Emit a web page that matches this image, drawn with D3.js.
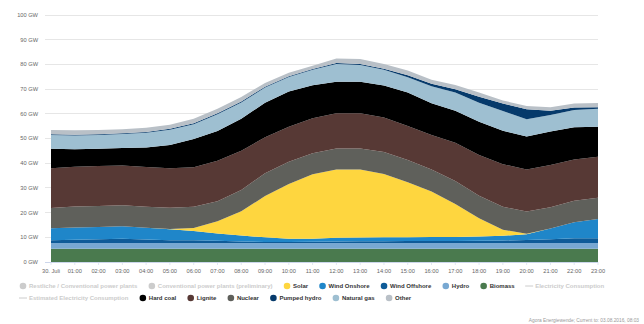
<!DOCTYPE html>
<html><head><meta charset="utf-8">
<script src="https://cdn.jsdelivr.net/npm/d3@7"></script>
<style>
html,body{margin:0;padding:0;background:#fff;}
svg{display:block;font-family:"Liberation Sans",Arial,sans-serif;}
</style></head>
<body><svg id="chart" width="644" height="324"></svg>
<script>
const hours = ["30. Juli","01:00","02:00","03:00","04:00","05:00","06:00","07:00","08:00","09:00","10:00","11:00","12:00","13:00","14:00","15:00","16:00","17:00","18:00","19:00","20:00","21:00","22:00","23:00"];
const yTicks = [0,10,20,30,40,50,60,70,80,90,100];

const biomass      = [5.4,5.4,5.4,5.4,5.4,5.4,5.4,5.4,5.4,5.4,5.4,5.4,5.4,5.4,5.4,5.4,5.4,5.4,5.4,5.4,5.4,5.4,5.4,5.4];
const hydro        = [2.3,2.3,2.3,2.3,2.3,2.3,2.3,2.3,2.3,2.3,2.3,2.3,2.3,2.3,2.3,2.3,2.3,2.3,2.3,2.3,2.3,2.3,2.3,2.3];
const windOffshore = [1.1,1.3,1.5,1.7,1.4,1.1,1.1,0.9,0.6,0.4,0.4,0.5,0.6,0.7,0.7,0.8,0.8,0.8,0.9,1.0,1.2,1.5,1.9,1.9];
const windOnshore  = [4.9,5.0,5.0,5.1,4.8,4.5,3.8,2.9,2.4,1.9,1.3,1.2,1.5,1.5,1.6,1.5,1.6,1.6,1.7,1.9,2.3,4.4,6.5,7.8];
const solar        = [0,0,0,0,0,0.1,1.2,5.0,9.8,16.7,22.2,26.1,27.6,27.5,25.6,22.3,18.4,13.4,7.4,2.5,0.2,0,0,0];
const nuclear      = [8.2,8.5,8.5,8.5,8.5,8.6,8.6,8.1,8.7,9.2,9.0,8.5,8.6,8.6,8.9,9.0,9.0,9.3,9.1,9.3,9.0,8.6,8.7,8.6];
const lignite      = [16.1,16.1,16.2,16.1,16.1,16.0,16.0,16.4,15.8,14.6,14.2,14.2,14.2,14.2,14.0,13.8,13.9,15.5,16.5,17.2,17.0,17.1,16.7,16.6];
const hardCoal     = [7.9,7.0,6.9,7.1,7.9,9.4,11.4,12.0,13.0,14.0,14.2,13.4,12.8,12.8,13.0,13.5,12.9,12.9,13.5,13.5,13.4,13.5,13.1,12.2];
const naturalGas   = [5.5,5.6,5.6,5.6,5.9,6.1,6.0,6.8,6.6,6.1,5.9,6.2,7.2,6.8,6.3,6.2,6.9,7.4,7.7,8.0,7.0,6.7,6.9,7.2];
const pumpedHydro  = [0.3,0.3,0.3,0.3,0.3,0.4,0.4,0.4,0.4,0.4,0.3,0.3,0.4,0.4,0.4,0.8,1.0,1.3,2.4,3.1,4.0,1.7,1.1,0.7];
const other        = [1.7,1.8,1.7,1.6,1.8,1.7,1.8,1.8,1.8,1.5,1.4,1.4,1.8,2.0,2.0,1.9,1.6,1.8,1.7,1.2,1.4,1.5,1.6,1.7];

const seriesKeys  = ["biomass","hydro","windOffshore","windOnshore","solar","nuclear","lignite","hardCoal","naturalGas","pumpedHydro","other"];
const seriesData  = {biomass,hydro,windOffshore,windOnshore,solar,nuclear,lignite,hardCoal,naturalGas,pumpedHydro,other};
const seriesColor = {biomass:"#4a7a4e",hydro:"#78a8d2",windOffshore:"#0e5b98",windOnshore:"#1f86c9",solar:"#fed63f",nuclear:"#5f605b",lignite:"#573935",hardCoal:"#000000",naturalGas:"#9ebfd1",pumpedHydro:"#063a6b",other:"#b9c0c7"};

const legendRow1 = [
  {label:"Restliche / Conventional power plants", type:"dot", color:"#cccccc", off:true},
  {label:"Conventional power plants (preliminary)", type:"dot", color:"#cccccc", off:true},
  {label:"Solar", type:"dot", color:"#fed63f"},
  {label:"Wind Onshore", type:"dot", color:"#1f86c9"},
  {label:"Wind Offshore", type:"dot", color:"#0e5b98"},
  {label:"Hydro", type:"dot", color:"#78a8d2"},
  {label:"Biomass", type:"dot", color:"#4a7a4e"},
  {label:"Electricity Consumption", type:"line", color:"#cccccc", off:true}
];
const legendRow2 = [
  {label:"Estimated Electricity Consumption", type:"line", color:"#cccccc", off:true},
  {label:"Hard coal", type:"dot", color:"#000000"},
  {label:"Lignite", type:"dot", color:"#573935"},
  {label:"Nuclear", type:"dot", color:"#5f605b"},
  {label:"Pumped hydro", type:"dot", color:"#063a6b"},
  {label:"Natural gas", type:"dot", color:"#9ebfd1"},
  {label:"Other", type:"dot", color:"#b9c0c7"}
];

const svg = d3.select("#chart");
const x = d3.scaleLinear().domain([0, hours.length-1]).range([51, 598]);
const y = d3.scaleLinear().domain([0, 100]).range([262, 15]);

// gridlines
svg.append("g").selectAll("line").data(yTicks.filter(d=>d>0)).join("line")
  .attr("x1",45).attr("x2",598).attr("y1",d=>y(d)).attr("y2",d=>y(d))
  .attr("stroke","#e6e6e6").attr("stroke-width",1).attr("shape-rendering","crispEdges");

// y labels
svg.append("g").selectAll("text").data(yTicks).join("text")
  .attr("x",38).attr("y",d=>y(d)).attr("dy","0.35em").attr("text-anchor","end")
  .attr("font-size",5.7).attr("fill","#666").text(d=>d+" GW");

// stacked areas
const rows = hours.map((h,i)=>{const r={i}; seriesKeys.forEach(k=>r[k]=seriesData[k][i]); return r;});
const stack = d3.stack().keys(seriesKeys)(rows);
const area = d3.area().x(d=>x(d.data.i)).y0(d=>y(d[0])).y1(d=>y(d[1]));
svg.append("g").selectAll("path").data(stack).join("path")
  .attr("d",area).attr("fill",d=>seriesColor[d.key]);

// x axis line and ticks
svg.append("line").attr("x1",45).attr("x2",598).attr("y1",y(0)+0.5).attr("y2",y(0)+0.5).attr("stroke","#ccd6eb");
svg.append("g").selectAll("line").data(hours).join("line")
  .attr("x1",(d,i)=>x(i)).attr("x2",(d,i)=>x(i)).attr("y1",y(0)).attr("y2",y(0)+3)
  .attr("stroke","#ccd6eb").attr("stroke-width",0.6);
svg.append("g").selectAll("text").data(hours).join("text")
  .attr("x",(d,i)=>x(i)).attr("y",272.5).attr("text-anchor","middle")
  .attr("font-size",5.7).attr("fill","#666").text(d=>d);

// legend
function drawLegendRow(items, yy){
  let cx = 19;
  const g = svg.append("g");
  items.forEach(it=>{
    if(it.type==="dot"){
      g.append("circle").attr("cx",cx+4).attr("cy",yy).attr("r",3.3).attr("fill",it.color);
    } else {
      g.append("line").attr("x1",cx).attr("x2",cx+8).attr("y1",yy).attr("y2",yy).attr("stroke",it.color).attr("stroke-width",1);
    }
    const t = g.append("text").attr("x",cx+10).attr("y",yy).attr("dy","0.35em")
      .attr("font-size",6.0).attr("font-weight","bold").attr("fill",it.off?"#cccccc":"#333333").text(it.label);
    const w = t.node().getComputedTextLength();
    cx = cx + 10 + w + 10.5;
  });
}
drawLegendRow(legendRow1, 286);
drawLegendRow(legendRow2, 298);

svg.append("text").attr("x",639).attr("y",322).attr("text-anchor","end")
  .attr("font-size",4.8).attr("fill","#999").text("Agora Energiewende; Current to: 03.08.2016, 08:03");
</script></body></html>
